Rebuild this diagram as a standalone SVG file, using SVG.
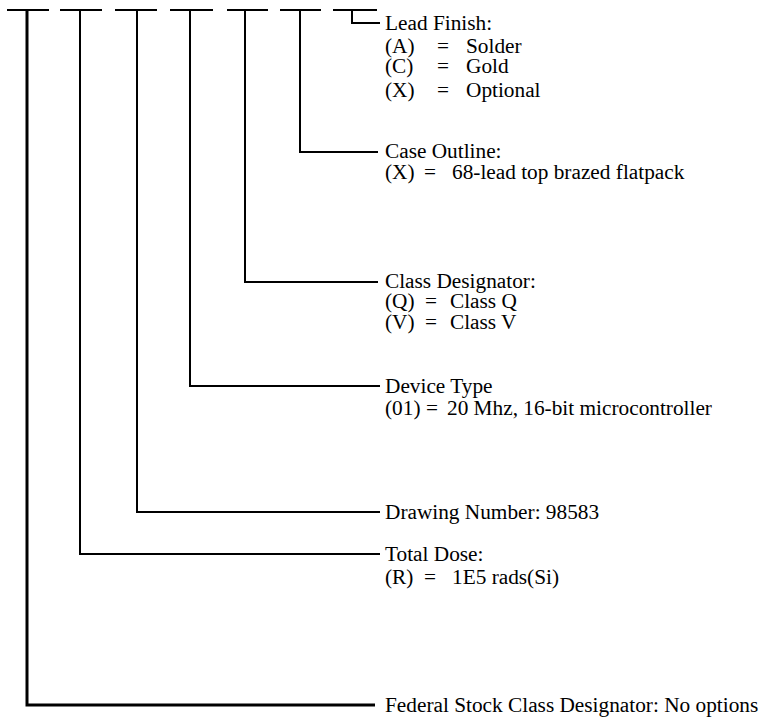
<svg xmlns="http://www.w3.org/2000/svg" width="760" height="719" viewBox="0 0 760 719">
<style>
.ln{stroke:#000;stroke-width:2;fill:none;stroke-linecap:butt}
.thick{stroke-width:3}
text{font-family:"Liberation Serif","Times New Roman",serif;font-size:21.3px;fill:#000}
</style>
<rect width="760" height="719" fill="#fff"/>
<g id="dashes">
<line class="ln" x1="7" y1="10" x2="49" y2="10"/>
<line class="ln" x1="60" y1="10" x2="102" y2="10"/>
<line class="ln" x1="115" y1="10" x2="157" y2="10"/>
<line class="ln" x1="170" y1="10" x2="213" y2="10"/>
<line class="ln" x1="227" y1="10" x2="268" y2="10"/>
<line class="ln" x1="280" y1="10" x2="321" y2="10"/>
<line class="ln" x1="333" y1="10" x2="377" y2="10"/>
</g>
<g id="connectors">
<polyline class="ln" points="352,10 352,23 380,23"/>
<polyline class="ln" points="300,10 300,152 378,152"/>
<polyline class="ln" points="245,10 245,282 378,282"/>
<polyline class="ln" points="190,10 190,386 380,386"/>
<polyline class="ln" points="137,10 137,512 380,512"/>
<polyline class="ln" points="80,10 80,554 380,554"/>
<polyline class="ln thick" points="27,10 27,705 375,705"/>
</g>
<g id="lead-finish">
<text x="385" y="30">Lead Finish:</text>
<text x="385" y="53">(A)</text><text x="437" y="53">=</text><text x="466" y="53">Solder</text>
<text x="385" y="73">(C)</text><text x="437" y="73">=</text><text x="466" y="73">Gold</text>
<text x="385" y="97">(X)</text><text x="437" y="97">=</text><text x="466" y="97">Optional</text>
</g>
<g id="case-outline">
<text x="385" y="158">Case Outline:</text>
<text x="385" y="179">(X)</text><text x="424" y="179">=</text><text x="452" y="179">68-lead top brazed flatpack</text>
</g>
<g id="class-designator">
<text x="385" y="288">Class Designator:</text>
<text x="385" y="308">(Q)</text><text x="425" y="308">=</text><text x="450" y="308">Class Q</text>
<text x="385" y="329">(V)</text><text x="425" y="329">=</text><text x="450" y="329">Class V</text>
</g>
<g id="device-type">
<text x="385" y="393">Device Type</text>
<text x="385" y="415">(01)</text><text x="426" y="415">=</text><text x="447" y="415">20 Mhz, 16-bit microcontroller</text>
</g>
<g id="drawing-number">
<text x="385" y="519">Drawing Number: 98583</text>
</g>
<g id="total-dose">
<text x="385" y="561">Total Dose:</text>
<text x="385" y="584">(R)</text><text x="424" y="584">=</text><text x="452" y="584">1E5 rads(Si)</text>
</g>
<g id="federal-stock">
<text x="385" y="712">Federal Stock Class Designator: No options</text>
</g>
</svg>
